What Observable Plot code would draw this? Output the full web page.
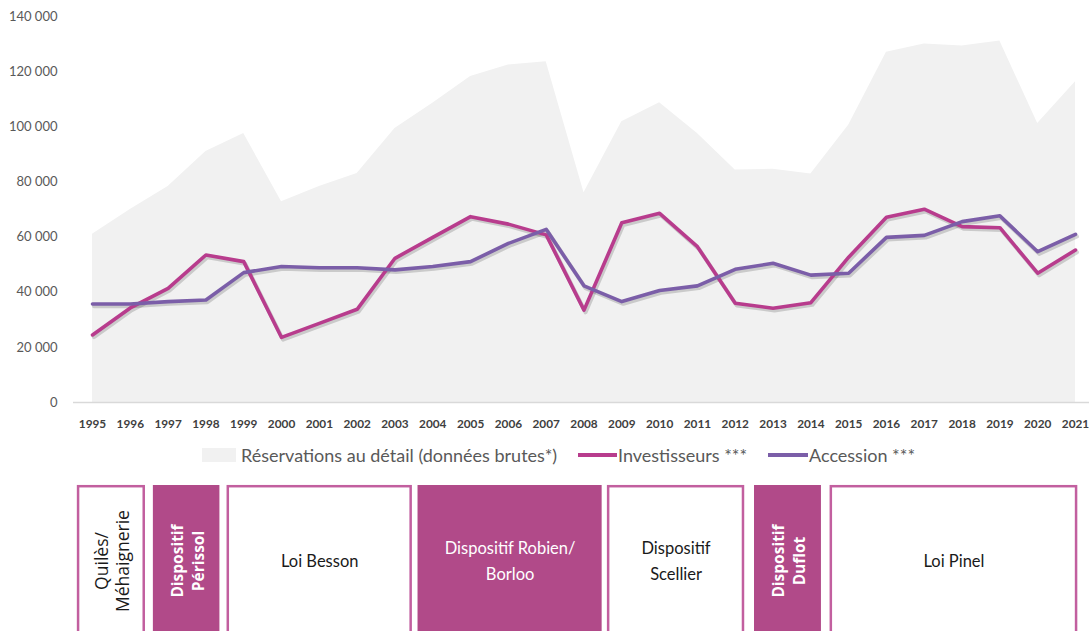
<!DOCTYPE html>
<html>
<head>
<meta charset="utf-8">
<script src="https://cdn.jsdelivr.net/npm/d3@7"></script>
<script src="https://cdn.jsdelivr.net/npm/@observablehq/plot@0.6"></script>
<style>
  html, body { margin: 0; padding: 0; background: #ffffff; width: 1089px; height: 631px; overflow: hidden; }
  body { font-family: Lato, "DejaVu Sans", sans-serif; }
  #legend { position: relative; width: 1089px; height: 40px; color: #595959; font-size: 18px; }
  #legend .item { position: absolute; top: 0; height: 46px; display: flex; align-items: center; white-space: nowrap; }
  #legend .sw-area { width: 34px; height: 14px; background: #f1f1f1; margin-right: 5px; }
  #legend .sw-line { width: 39px; height: 4px; margin-right: 1px; }
</style>
</head>
<body>
<div id="chart"></div>
<div id="legend"></div>
<div id="boxes"></div>
<script>
// ---- Data ----
const years = [1995, 1996, 1997, 1998, 1999, 2000, 2001, 2002, 2003, 2004, 2005, 2006, 2007, 2008, 2009, 2010, 2011, 2012, 2013, 2014, 2015, 2016, 2017, 2018, 2019, 2020, 2021];
const reservations = [61000, 70000, 78300, 91000, 97600, 72800, 78300, 83100, 99400, 108500, 118200, 122400, 123600, 76100, 101800, 108700, 97600, 84300, 84600, 82900, 100600, 127000, 130000, 129300, 131100, 101200, 116300];
const investisseurs = [24500, 34300, 41400, 53500, 51100, 23600, 28700, 33800, 52300, 59900, 67400, 64700, 60800, 33500, 65200, 68600, 56500, 36000, 34200, 36200, 52700, 67200, 70100, 63800, 63400, 46900, 55300];
const accession = [35700, 35700, 36600, 37200, 47100, 49300, 48900, 48900, 48100, 49300, 51100, 57700, 62800, 42300, 36600, 40600, 42300, 48300, 50500, 46200, 46900, 59900, 60600, 65600, 67700, 54700, 61000];

const yTicks = [0, 20000, 40000, 60000, 80000, 100000, 120000, 140000];
const yTickLabels = ["0", "20 000", "40 000", "60 000", "80 000", "100 000", "120 000", "140 000"];

const seriesNames = ["Réservations au détail (données brutes*)", "Investisseurs ***", "Accession ***"];

const policyNames = ["Quilès/\nMéhaignerie", "Dispositif\nPérissol", "Loi Besson", "Dispositif Robien/\nBorloo", "Dispositif\nScellier", "Dispositif\nDuflot", "Loi Pinel"];
const policyStart = [1994.6, 1996.61, 1998.56, 2003.61, 2008.62, 2012.51, 2014.51];
const policyEnd = [1996.4, 1998.37, 2003.46, 2008.48, 2012.25, 2014.28, 2021.06];
const policyKind = ["outline-vertical", "filled-vertical", "outline", "filled", "outline", "filled-vertical", "outline"];

// ---- Colours ----
const cArea = "#f1f1f1";
const cInv = "#b83c8d";
const cAcc = "#7b5ea8";
const cBox = "#b14a89";
const cBoxStroke = "#c25f9f";

const table = years.map((year, i) => ({year, reservations: reservations[i], investisseurs: investisseurs[i], accession: accession[i]}));
const policies = policyNames.map((name, i) => ({name, start: policyStart[i], end: policyEnd[i], kind: policyKind[i]}));

const xScale = {domain: [1995, 2021], range: [92, 1075], axis: null};

// ---- Main chart ----
const chart = Plot.plot({
  width: 1089,
  height: 432,
  marginLeft: 73,
  marginRight: 0,
  marginTop: 16,
  marginBottom: 30,
  x: xScale,
  y: {domain: [0, 140000], axis: null},
  style: {fontFamily: "Lato, sans-serif", background: "transparent", overflow: "visible"},
  marks: [
    Plot.areaY(table, {x: "year", y: "reservations", fill: cArea}),
    Plot.ruleY([0], {stroke: "#d9d9d9", strokeWidth: 1.3}),
    Plot.line(table, {x: "year", y: "investisseurs", stroke: "#000", strokeOpacity: 0.16, strokeWidth: 4, dx: 1.5, dy: 2.2, strokeLinejoin: "round"}),
    Plot.line(table, {x: "year", y: "accession", stroke: "#000", strokeOpacity: 0.16, strokeWidth: 4, dx: 1.5, dy: 2.2, strokeLinejoin: "round"}),
    Plot.line(table, {x: "year", y: "investisseurs", stroke: cInv, strokeWidth: 3.6, strokeLinejoin: "round"}),
    Plot.line(table, {x: "year", y: "accession", stroke: cAcc, strokeWidth: 3.6, strokeLinejoin: "round"}),
    Plot.text(yTicks, {y: d => d, text: (d, i) => yTickLabels[i], frameAnchor: "left", dx: -16, textAnchor: "end", fontSize: 13, fill: "#595959"}),
    Plot.text(years, {x: d => d, text: d => String(d), frameAnchor: "bottom", dy: 22, lineAnchor: "middle", fontSize: 11.8, fontWeight: 700, fill: "#404040"})
  ]
});
document.getElementById("chart").appendChild(chart);

// ---- Legend ----
const legend = document.getElementById("legend");
const legendItems = [
  {label: seriesNames[0], swatch: "area", color: cArea, left: 202},
  {label: seriesNames[1], swatch: "line", color: cInv, left: 578},
  {label: seriesNames[2], swatch: "line", color: cAcc, left: 768}
];
legendItems.forEach(it => {
  const d = document.createElement("div");
  d.className = "item";
  d.style.left = it.left + "px";
  const s = document.createElement("span");
  s.className = it.swatch === "area" ? "sw-area" : "sw-line";
  s.style.background = it.color;
  if (it.swatch === "line") s.style.width = (it.left === 768 ? 40 : 39) + "px";
  const t = document.createElement("span");
  t.textContent = it.label;
  d.appendChild(s);
  d.appendChild(t);
  legend.appendChild(d);
});

// ---- Policy boxes ----
const mid = d => (d.start + d.end) / 2;
const boxes = Plot.plot({
  width: 1089,
  height: 164,
  marginLeft: 73,
  marginRight: 0,
  marginTop: 13,
  marginBottom: 0,
  x: xScale,
  style: {fontFamily: "Lato, sans-serif", background: "transparent", overflow: "visible"},
  marks: [
    Plot.rect(policies.filter(d => d.kind.startsWith("outline")), {x1: "start", x2: "end", fill: "#ffffff", stroke: cBoxStroke, strokeWidth: 2.5, insetLeft: 1.2, insetRight: 1.2, insetTop: 1.2}),
    Plot.rect(policies.filter(d => d.kind.startsWith("filled")), {x1: "start", x2: "end", fill: cBox}),
    Plot.text(policies.filter(d => d.kind === "outline"), {x: mid, text: "name", frameAnchor: "middle", lineAnchor: "middle", dy: -2, fontSize: 16.5, lineHeight: 1.55, fill: "#1a1a1a"}),
    Plot.text(policies.filter(d => d.kind === "filled"), {x: mid, text: "name", frameAnchor: "middle", lineAnchor: "middle", dy: -2, fontSize: 16.5, lineHeight: 1.55, fill: "#ffffff"}),
    Plot.text(policies.filter(d => d.kind === "outline-vertical"), {x: mid, text: "name", frameAnchor: "middle", lineAnchor: "middle", rotate: -90, fontFamily: "Open Sans, sans-serif", fontSize: 17.5, lineHeight: 1.2, fill: "#1a1a1a"}),
    Plot.text(policies.filter(d => d.kind === "filled-vertical"), {x: mid, text: "name", frameAnchor: "middle", lineAnchor: "middle", rotate: -90, fontFamily: "Open Sans, sans-serif", fontSize: 15.5, fontWeight: 700, lineHeight: 1.35, fill: "#ffffff"})
  ]
});
document.getElementById("boxes").appendChild(boxes);
</script>
</body>
</html>
